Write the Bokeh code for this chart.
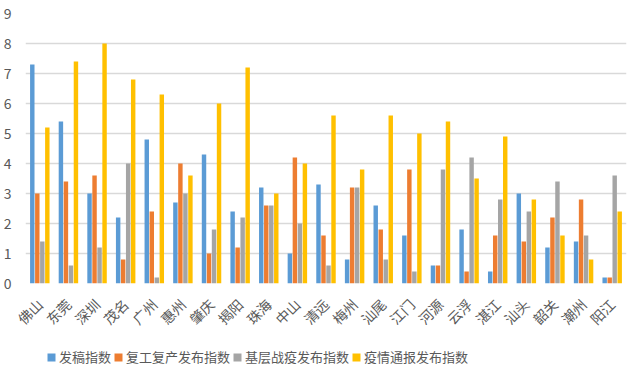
import math
from bokeh.plotting import figure
from bokeh.layouts import column
from bokeh.models import ColumnDataSource, FactorRange, Legend, LegendItem, Range1d, FixedTicker
from bokeh.transform import dodge
from bokeh.embed import file_html
from bokeh.resources import INLINE

cities = ["佛山", "东莞", "深圳", "茂名", "广州", "惠州", "肇庆", "揭阳", "珠海", "中山", "清远",
          "梅州", "汕尾", "江门", "河源", "云浮", "湛江", "汕头", "韶关", "潮州", "阳江"]
fagao = [7.3, 5.4, 3.0, 2.2, 4.8, 2.7, 4.3, 2.4, 3.2, 1.0, 3.3, 0.8, 2.6, 1.6, 0.6, 1.8, 0.4, 3.0, 1.2, 1.4, 0.2]
fugong = [3.0, 3.4, 3.6, 0.8, 2.4, 4.0, 1.0, 1.2, 2.6, 4.2, 1.6, 3.2, 1.8, 3.8, 0.6, 0.4, 1.6, 1.4, 2.2, 2.8, 0.2]
jiceng = [1.4, 0.6, 1.2, 4.0, 0.2, 3.0, 1.8, 2.2, 2.6, 2.0, 0.6, 3.2, 0.8, 0.4, 3.8, 4.2, 2.8, 2.4, 3.4, 1.6, 3.6]
yiqing = [5.2, 7.4, 8.0, 6.8, 6.3, 3.6, 6.0, 7.2, 3.0, 4.0, 5.6, 3.8, 5.6, 5.0, 5.4, 3.5, 4.9, 2.8, 1.6, 0.8, 2.4]
series_names = ["发稿指数", "复工复产发布指数", "基层战疫发布指数", "疫情通报发布指数"]
colors = ["#5B9BD5", "#ED7D31", "#A5A5A5", "#FFC000"]
y_ticks = [0, 1, 2, 3, 4, 5, 6, 7, 8, 9]

src = ColumnDataSource(dict(city=cities, a=fagao, b=fugong, c=jiceng, d=yiqing))

FONT = "Noto Sans CJK SC"
p = figure(width=640, height=340, x_range=FactorRange(*cities), y_range=Range1d(0, 9),
           output_backend="svg", toolbar_location=None,
           min_border_top=13, min_border_right=14, min_border_left=0, min_border_bottom=57)

keys = ["a", "b", "c", "d"]
offsets = [-0.2625, -0.0875, 0.0875, 0.2625]
for k, off, col in zip(keys, offsets, colors):
    p.vbar(x=dodge("city", off, range=p.x_range), top=k, width=0.155, source=src,
           fill_color=col, line_color=None)

p.outline_line_color = None
p.xgrid.grid_line_color = None
p.ygrid.grid_line_color = "#D9D9D9"
p.ygrid.grid_line_width = 1.5
p.yaxis.ticker = FixedTicker(ticks=y_ticks)
p.yaxis.axis_line_color = None
p.yaxis.major_tick_line_color = None
p.yaxis.minor_tick_line_color = None
p.yaxis.major_label_text_font = FONT
p.yaxis.major_label_text_font_size = "14px"
p.yaxis.major_label_text_color = "#595959"
p.yaxis.major_label_standoff = 8

p.xaxis.axis_line_color = None
p.xaxis.major_tick_line_color = None
p.xaxis.major_label_orientation = math.pi / 4
p.xaxis.major_label_text_font = FONT
p.xaxis.major_label_text_font_size = "14px"
p.xaxis.major_label_text_color = "#595959"
p.xaxis.major_label_standoff = 12

# legend figure below
lf = figure(width=640, height=36, x_range=Range1d(0, 1), y_range=Range1d(0, 1),
            output_backend="svg", toolbar_location=None,
            min_border_top=0, min_border_right=0, min_border_left=0, min_border_bottom=0)
lf.axis.visible = False
lf.grid.grid_line_color = None
lf.outline_line_color = None
dummy = ColumnDataSource(dict(x=[10], y=[10]))
lrs = [lf.rect(x="x", y="y", width=0.1, height=0.1, source=dummy, fill_color=c, line_color=None)
       for c in colors]
legend = Legend(items=[LegendItem(label=n, renderers=[r]) for n, r in zip(series_names, lrs)],
                orientation="horizontal", location=(21, 10),
                label_text_font=FONT, label_text_font_size="13px", label_text_color="#595959",
                glyph_width=10, glyph_height=10, spacing=2, label_standoff=3,
                border_line_color=None, background_fill_alpha=0, padding=4, margin=0)
lf.add_layout(legend, "center")

layout = column(p, lf, spacing=0)
open("out.html", "w").write(file_html(layout, INLINE))
